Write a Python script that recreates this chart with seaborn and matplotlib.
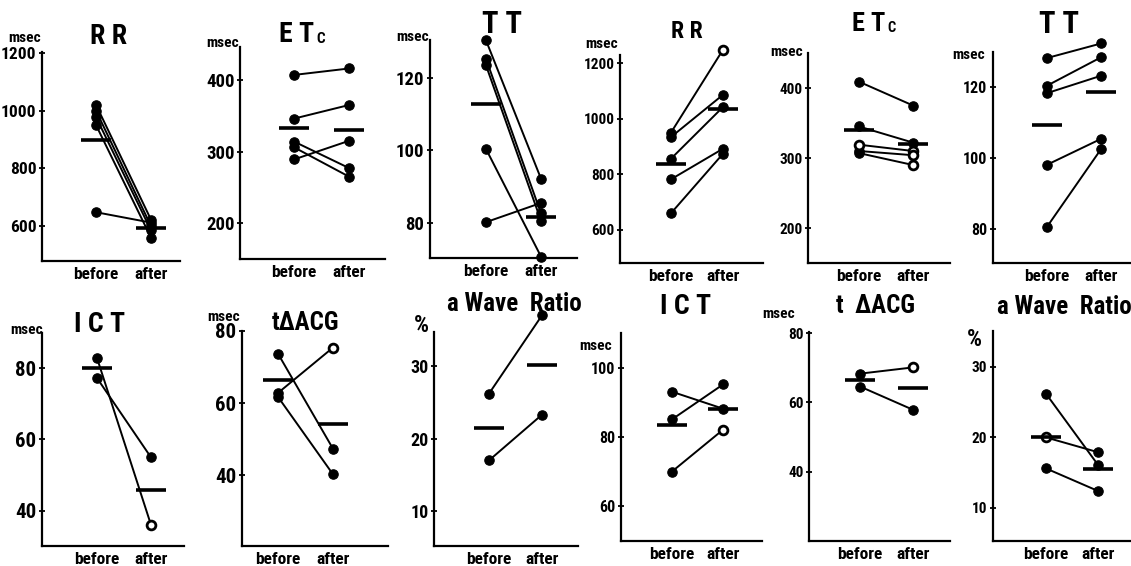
import numpy as np
import pandas as pd
import matplotlib
matplotlib.use("Agg")
import matplotlib.pyplot as plt
import matplotlib.font_manager as fm
import seaborn as sns

sns.set_theme(style="white")

# pick a narrow bold face if one is installed
_fonts = fm.fontManager.ttflist
_names = {f.name for f in _fonts}
FAMILY, STRETCH, SCALE = None, "normal", 1.0
for cand in ["Liberation Sans Narrow", "Roboto Condensed", "Open Sans Condensed", "Arial Narrow"]:
    if cand in _names:
        FAMILY = cand
        break
if FAMILY is None:
    for cand in ["Noto Sans", "DejaVu Sans", "Roboto", "Open Sans"]:
        if any(f.name == cand and f.stretch in ("condensed", "semi-condensed", "extra-condensed",
                                                 300, 400, 200)
               for f in _fonts):
            FAMILY, STRETCH = cand, "condensed"
            break
if FAMILY is None:
    FAMILY, SCALE = "Liberation Sans", 0.86

plt.rcParams["font.family"] = [FAMILY, "DejaVu Sans"]
plt.rcParams["font.weight"] = "bold"
plt.rcParams["font.stretch"] = STRETCH

conditions = ["before", "after"]

# ---- data ----
rr1_before = [1020, 1000, 978, 950, 648]
rr1_after = [622, 600, 585, 560, 612]
rr1_mean = [897, 595]

etc1_before = [407, 346, 314, 306, 289]
etc1_after = [416, 365, 277, 265, 315]
etc1_mean = [333, 330]

tt1_before = [130.4, 125.3, 123.5, 100.4, 80.2]
tt1_after = [92.2, 82.6, 80.6, 70.7, 85.5]
tt1_mean = [112.7, 81.6]

rr2_before = [950, 934, 856, 782, 660]
rr2_after = [1248, 1086, 1042, 892, 874]
rr2_mean = [836, 1036]

etc2_before = [409, 345, 319, 310, 307]
etc2_after = [375, 322, 310, 304, 290]
etc2_mean = [340, 320]

tt2_before = [128.2, 120.4, 118.3, 98.1, 80.6]
tt2_after = [132.3, 128.4, 123.2, 105.4, 102.5]
tt2_mean = [109.2, 118.5]

ict1_before = [82.8, 77.2]
ict1_after = [36.1, 55.0]
ict1_mean = [80.0, 45.9]

acg1_before = [73.7, 62.8, 61.7]
acg1_after = [47.3, 75.4, 40.2]
acg1_mean = [66.3, 54.3]

awr1_before = [26.2, 17.0]
awr1_after = [37.0, 23.3]
awr1_mean = [21.5, 30.1]

ict2_before = [93.1, 85.1, 70.0]
ict2_after = [88.2, 95.2, 82.1]
ict2_mean = [83.4, 88.2]

acg2_before = [68.3, 64.6]
acg2_after = [70.1, 57.9]
acg2_mean = [66.6, 64.2]

awr2_before = [26.2, 20.0, 15.6]
awr2_after = [16.1, 17.9, 12.4]
awr2_mean = [20.0, 15.5]

ticks_rr = [600, 800, 1000, 1200]
ticks_etc = [200, 300, 400]
ticks_tt = [80, 100, 120]
ticks_ict1 = [40, 60, 80]
ticks_acg = [40, 60, 80]
ticks_awr = [10, 20, 30]
ticks_ict2 = [60, 80, 100]

panels = [
    dict(title=("R R", ""), unit="msec", b=rr1_before, a=rr1_after, m=rr1_mean, ticks=ticks_rr, open=[]),
    dict(title=("E T", "C"), unit="msec", b=etc1_before, a=etc1_after, m=etc1_mean, ticks=ticks_etc, open=[]),
    dict(title=("T T", ""), unit="msec", b=tt1_before, a=tt1_after, m=tt1_mean, ticks=ticks_tt, open=[]),
    dict(title=("R R", ""), unit="msec", b=rr2_before, a=rr2_after, m=rr2_mean, ticks=ticks_rr, open=[(1, 0)]),
    dict(title=("E T", "C"), unit="msec", b=etc2_before, a=etc2_after, m=etc2_mean, ticks=ticks_etc,
         open=[(0, 2), (1, 2), (1, 3), (1, 4)]),
    dict(title=("T T", ""), unit="msec", b=tt2_before, a=tt2_after, m=tt2_mean, ticks=ticks_tt, open=[]),
    dict(title=("I C T", ""), unit="msec", b=ict1_before, a=ict1_after, m=ict1_mean, ticks=ticks_ict1, open=[(1, 0)]),
    dict(title=("tΔACG", ""), unit="msec", b=acg1_before, a=acg1_after, m=acg1_mean, ticks=ticks_acg, open=[(1, 1)]),
    dict(title=("a Wave  Ratio", ""), unit="%", b=awr1_before, a=awr1_after, m=awr1_mean, ticks=ticks_awr, open=[]),
    dict(title=("I C T", ""), unit="msec", b=ict2_before, a=ict2_after, m=ict2_mean, ticks=ticks_ict2, open=[(1, 2)]),
    dict(title=("t  ΔACG", ""), unit="msec", b=acg2_before, a=acg2_after, m=acg2_mean, ticks=ticks_acg, open=[(1, 0)]),
    dict(title=("a Wave  Ratio", ""), unit="%", b=awr2_before, a=awr2_after, m=awr2_mean, ticks=ticks_awr, open=[(0, 1)]),
]

# ---- layout (pixels in a 1131x566 canvas) ----
W, H = 1131, 566
# left, right, top, bottom, x_before, x_after, ylim, tick fontsize, unit (x_right, y), title (x, y, size)
layout = [
    (42, 180, 52, 261, 96, 151, (479, 1203), 12.5, (41, 38), (109, 37, 20)),
    (240, 385, 47, 259, 294, 349, (150, 446), 13.5, (239, 43), (308, 35, 20)),
    (430, 577, 40, 258, 486, 541, (70.3, 130.5), 13.5, (429, 37), (502, 24, 22)),
    (620, 763, 55, 263, 671, 723, (481, 1229), 11, (618, 44), (687, 31, 17)),
    (808, 950, 53, 263, 859, 913, (150, 450), 11, (803, 52), (879, 24, 19)),
    (993, 1131, 52, 263, 1047, 1101, (70.4, 129.9), 11.5, (985, 55), (1059, 24, 22)),
    (42, 184, 333, 546, 97, 151, (30.2, 89.8), 15, (43, 330), (100, 324, 20)),
    (242, 388, 331, 546, 278, 333, (20.3, 80), 15, (240, 317), (305, 323, 18)),
    (434, 578, 332, 546, 489, 542, (5.2, 34.7), 13, (429, 326), (514, 304, 18)),
    (621, 762, 333, 541, 672, 723, (49.9, 110.1), 11.5, (612, 346), (686, 306, 20)),
    (809, 950, 332, 541, 860, 913, (20.1, 80.3), 11, (795, 314), (875, 306, 18)),
    (993, 1131, 331, 541, 1046, 1098, (5.3, 35.1), 11, (982, 339), (1064, 307, 18)),
]

fig = plt.figure(figsize=(W / 100, H / 100), dpi=100)
fig.patch.set_facecolor("white")

for p, lay in zip(panels, layout):
    left, right, top, bot, xb, xa, ylim, tfs, upos, tpos = lay
    tfs = tfs * SCALE
    ax = fig.add_axes([left / W, 1 - bot / H, (right - left) / W, (bot - top) / H])
    ax.set_facecolor("white")
    s = xa - xb
    ax.set_xlim(-(xb - left) / s, 1 + (right - xa) / s)
    ax.set_ylim(*ylim)

    n = len(p["b"])
    df = pd.DataFrame({
        "subj": list(range(n)) * 2,
        "x": [0] * n + [1] * n,
        "value": list(p["b"]) + list(p["a"]),
    })
    sns.lineplot(data=df, x="x", y="value", units="subj", estimator=None,
                 color="black", lw=1.4, ax=ax, clip_on=False, legend=False)
    opens = set(p["open"])
    df["open"] = [((c, i) in opens) for c in (0, 1) for i in range(n)]
    filled = df[~df["open"]]
    hollow = df[df["open"]]
    sns.scatterplot(data=filled, x="x", y="value", color="black", s=46,
                    edgecolor="black", linewidth=0.8, ax=ax, clip_on=False, zorder=5, legend=False)
    if len(hollow):
        sns.scatterplot(data=hollow, x="x", y="value", color="white", s=40,
                        edgecolor="black", linewidth=2.0, ax=ax, clip_on=False, zorder=5, legend=False)
    hw = 15 / s
    for xi, mv in enumerate(p["m"]):
        ax.hlines(mv, xi - hw, xi + hw, color="black", lw=2.6, zorder=6, clip_on=False)

    ax.set_xlabel("")
    ax.set_ylabel("")
    ax.set_xticks([0, 1])
    ax.set_xticklabels(conditions, fontsize=12.5 * SCALE, fontweight="bold")
    ax.set_yticks(p["ticks"])
    ax.set_yticklabels([str(t) for t in p["ticks"]], fontsize=tfs, fontweight="bold")
    ax.tick_params(axis="x", length=0, pad=4, colors="black")
    ax.tick_params(axis="y", direction="inout", length=5, width=1.3, pad=1.5, colors="black", left=True)
    for side in ("top", "right"):
        ax.spines[side].set_visible(False)
    for side in ("left", "bottom"):
        ax.spines[side].set_color("black")
        ax.spines[side].set_linewidth(1.6)
    ax.grid(False)

    fig.text(upos[0] / W, 1 - upos[1] / H, p["unit"], ha="right", va="center",
             fontsize=(11 if p["unit"] == "msec" else 17) * SCALE, fontweight="bold", color="black")
    main, sub = p["title"]
    tx, ty, tsz = tpos
    tsz = tsz * SCALE
    if sub:
        fig.text((tx + 6) / W, 1 - ty / H, main, ha="right", va="center",
                 fontsize=tsz, fontweight="bold", color="black")
        fig.text((tx + 8) / W, 1 - (ty + 4) / H, sub, ha="left", va="center",
                 fontsize=tsz * 0.55, fontweight="bold", color="black")
    else:
        fig.text(tx / W, 1 - ty / H, main, ha="center", va="center",
                 fontsize=tsz, fontweight="bold", color="black")

fig.savefig("out.png", dpi=100, facecolor="white")
